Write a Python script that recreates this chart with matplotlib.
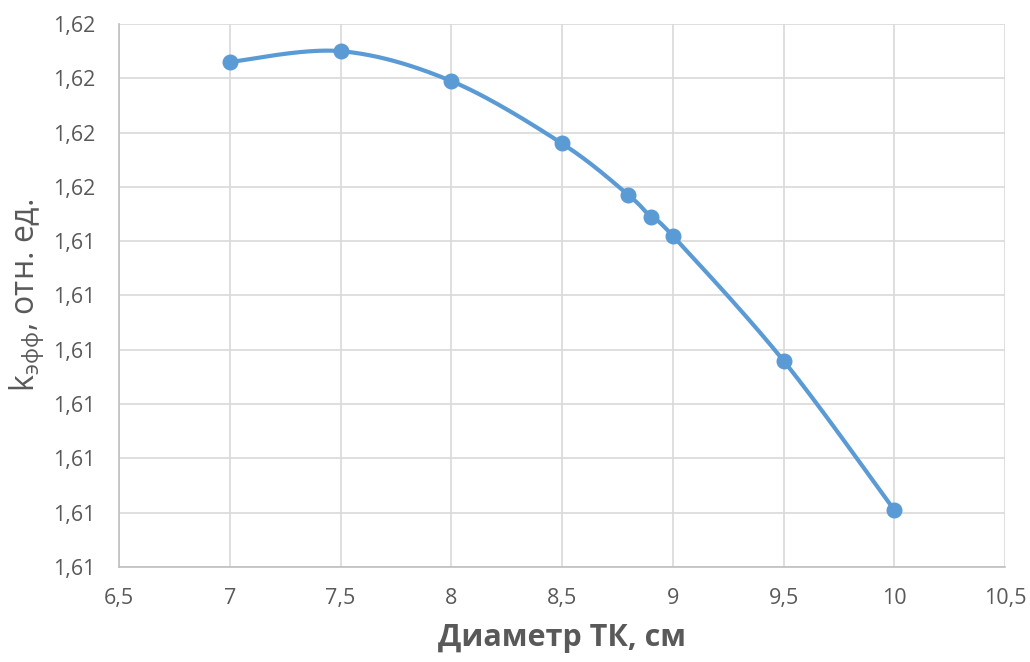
import numpy as np
import matplotlib.pyplot as plt
from matplotlib.ticker import FuncFormatter, MultipleLocator

# diameter of the fuel channel (cm) and k_eff
diam = [7, 7.5, 8, 8.5, 8.8, 8.9, 9, 9.5, 10]
keff = [1.61546, 1.61550, 1.61539, 1.61516, 1.61497, 1.61489, 1.61482, 1.61436, 1.61381]

x_ticks = [6.5, 7, 7.5, 8, 8.5, 9, 9.5, 10, 10.5]

blue = '#5B9BD5'
grey_txt = '#595959'


def smooth(x, y, n=40):
    # Catmull-Rom style bezier, like Excel's "smoothed line"
    p = np.column_stack([x, y]).astype(float)
    p = np.vstack([p[0], p, p[-1]])
    out = []
    t = np.linspace(0, 1, n)[:, None]
    for i in range(1, len(p) - 2):
        p0, p1, p2, p3 = p[i - 1], p[i], p[i + 1], p[i + 2]
        c1 = p1 + (p2 - p0) / 6
        c2 = p2 - (p3 - p1) / 6
        seg = ((1 - t) ** 3) * p1 + 3 * ((1 - t) ** 2) * t * c1 + 3 * (1 - t) * t ** 2 * c2 + t ** 3 * p2
        out.append(seg)
    out = np.vstack(out)
    return out[:, 0], out[:, 1]


def main():
    plt.rcParams['font.family'] = ['Open Sans', 'DejaVu Sans']
    fig = plt.figure(figsize=(10.3, 6.62), dpi=100)
    ax = fig.add_axes([119 / 1030, 1 - 567 / 662, (1005 - 119) / 1030, (567 - 24) / 662])

    sx, sy = smooth(diam, keff)
    ax.plot(sx, sy, color=blue, lw=3.0, solid_capstyle='round', zorder=3)
    ax.plot(diam, keff, 'o', color=blue, ms=10.5, zorder=4)

    ax.set_xlim(6.5, 10.5)
    ax.set_ylim(1.6136, 1.6156)
    ax.set_xticks(x_ticks)
    ax.yaxis.set_major_locator(MultipleLocator(0.0002))
    ax.xaxis.set_major_formatter(FuncFormatter(lambda v, pos: f'{v:g}'.replace('.', ',')))
    ax.yaxis.set_major_formatter(FuncFormatter(lambda v, pos: f'{v:.2f}'.replace('.', ',')))

    ax.grid(True, color='#D9D9D9', lw=1.2)
    ax.set_axisbelow(True)
    for s in ['top', 'right']:
        ax.spines[s].set_visible(False)
    for s in ['left', 'bottom']:
        ax.spines[s].set_color('#BFBFBF')
        ax.spines[s].set_linewidth(1.2)
    ax.tick_params(length=0, labelsize=15.5, colors=grey_txt, pad=17)
    ax.tick_params(axis='x', pad=15)

    ax.set_xlabel('Диаметр ТК, см', fontsize=22, fontweight='bold', color=grey_txt, labelpad=10)
    ax.set_ylabel(r'k$_{\mathregular{эфф}}$, отн. ед.', fontsize=23, color=grey_txt, labelpad=5)

    fig.savefig('out.png', dpi=100)


if __name__ == "__main__":
    main()
